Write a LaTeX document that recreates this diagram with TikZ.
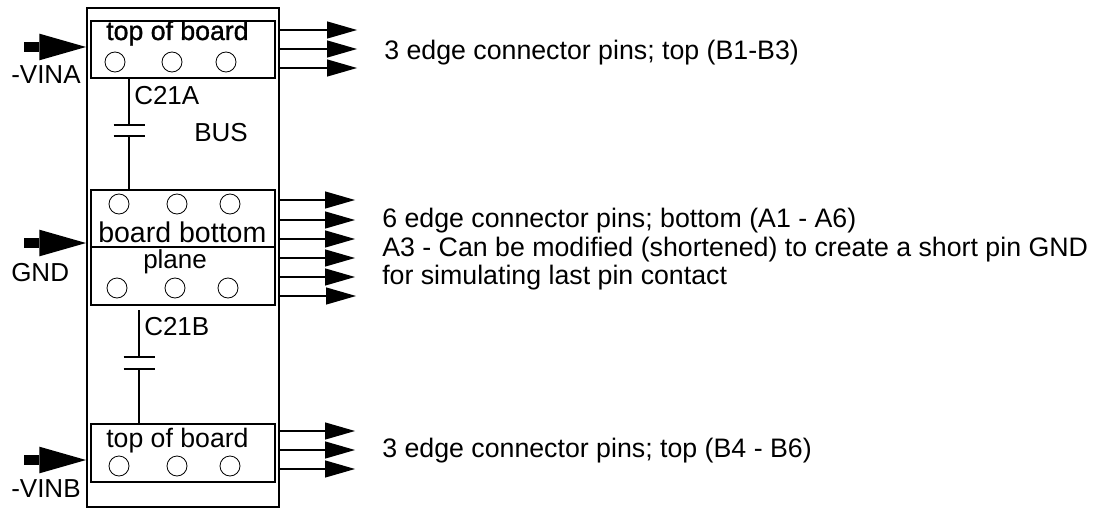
\documentclass[tikz,border=0pt]{standalone}
\usepackage{fontspec}
\setmainfont{Liberation Sans}
\newfontfamily\heavyfont[FakeBold=1.2]{Liberation Sans}
\usetikzlibrary{arrows.meta}
\newcommand{\bigfs}{\fontsize{19.5}{22}\selectfont}
\newcommand{\midfs}{\fontsize{20}{22}\selectfont}
\newcommand{\widefs}{\fontsize{21.4}{22}\selectfont}
\newcommand{\smallfs}{\fontsize{20.05}{22}\selectfont}
\tikzset{
  x=0.75pt,y=-0.75pt,
  box/.style={draw,line width=1.6pt,inner sep=0pt},
  hole/.style={circle,draw,line width=0.6pt,minimum size=15pt,inner sep=0pt},
  wire/.style={line width=2pt},
  pin/.style={line width=1.2pt,-{Triangle[length=22.5pt,width=13pt,line width=0pt]}},
  feed/.style={line width=8pt,-{Triangle[length=35pt,width=20pt,line width=0pt]}},
  lab/.style={anchor=base west,inner sep=0pt,font=\bigfs},
  note/.style={anchor=base west,inner sep=0pt,font=\smallfs},
}
\newcommand{\boxat}[5]{\node[box,minimum width=#4*0.75pt,minimum height=#5*0.75pt] (#1) at (#2,#3) {};}
\begin{document}
\begin{tikzpicture}
\useasboundingbox (0,0) rectangle (1103,510);
% board and copper areas
\boxat{board}{183}{257.5}{192}{499}
\boxat{topa}{183}{49.5}{184}{57}
\boxat{mid}{183}{247.5}{184}{115}
\boxat{topb}{183}{453}{184}{58}
\draw[wire] (mid.west |- 0,247) coordinate (ml) -- (mid.east |- 0,247) coordinate (mr);
% holes
\foreach \n/\x/\y in {a1/115/62,a2/172/62,a3/226/62,m1/119/204,m2/177/204,m3/230/204,n1/117/288,n2/175/288,n3/228/288,b1/119/466,b2/177/466,b3/230/466}
  \node[hole] (h\n) at (\x,\y) {};
% capacitors
\coordinate (pa1) at (129,125); \coordinate (pa2) at (129,136);
\coordinate (pb1) at (139,357); \coordinate (pb2) at (139,369);
\coordinate (ca) at (129,78); \coordinate (cm) at (129,190);
\coordinate (cb) at (139,310); \coordinate (ct) at (139,424);
\draw[wire] (ca) -- (pa1) (pa2) -- (cm) (cb) -- (pb1) (pb2) -- (ct);
\draw[wire] ([xshift=-15.5*0.75pt]pa1) -- ([xshift=15.5*0.75pt]pa1);
\draw[wire] ([xshift=-15.5*0.75pt]pa2) -- ([xshift=15.5*0.75pt]pa2);
\draw[wire] ([xshift=-15.5*0.75pt]pb1) -- ([xshift=15.5*0.75pt]pb1);
\draw[wire] ([xshift=-15.5*0.75pt]pb2) -- ([xshift=15.5*0.75pt]pb2);
% edge pins
\foreach \n/\y/\e in {1/30/357,2/49/357,3/68/357,4/200/355,5/220/355,6/239/355,7/258/355,8/277/355,9/296/356,10/431/355,11/450/355,12/469/355}{
  \coordinate (ps\n) at (279,\y); \coordinate (pe\n) at (\e,\y);
  \draw[pin] (ps\n) -- (pe\n);
}
% feeds
\foreach \n/\y in {a/47,g/243,b/460}{
  \coordinate (fs\n) at (24,\y); \coordinate (fe\n) at (86,\y);
  \draw[feed] (fs\n) -- (fe\n);
}
% labels
\node[lab,font=\heavyfont\midfs] (t1) at (106,40) {top of board};
\node[lab] (t2) at (11,84) {-VINA};
\node[lab] (t3) at (134,104) {C21A};
\node[lab] (t4) at (194,142) {BUS};
\node[lab,font=\widefs] (t5) at (98,242) {board bottom};
\node[lab] (t6) at (143,268) {plane};
\node[lab] (t7) at (11,281) {GND};
\node[lab] (t8) at (144,335) {C21B};
\node[lab,font=\midfs] (t9) at (106,447) {top of board};
\node[lab] (t10) at (11,497) {-VINB};
\node[note] (n1) at (384,60) {3 edge connector pins; top (B1-B3)};
\node[note] (n2) at (382,227) {6 edge connector pins; bottom (A1 - A6)};
\node[note] (n3) at (382,256) {A3 - Can be modified (shortened) to create a short pin GND};
\node[note] (n4) at (382,284) {for simulating last pin contact};
\node[note] (n5) at (382,457) {3 edge connector pins; top (B4 - B6)};
\end{tikzpicture}
\end{document}
